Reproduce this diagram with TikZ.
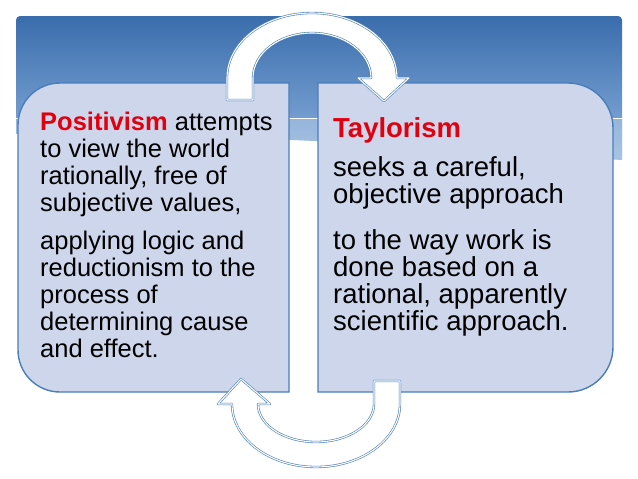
\documentclass[tikz,border=0pt]{standalone}
\usepackage{fontspec}
\setmainfont{Liberation Sans}
\definecolor{bandtop}{HTML}{3A6DAC}
\definecolor{bandbot}{HTML}{8BB0DD}
\definecolor{boxfill}{HTML}{CDD6EB}
\definecolor{boxline}{HTML}{4A7EBB}
\definecolor{keyred}{HTML}{E2000F}

\begin{document}
\begin{tikzpicture}[x=1pt, y=-1pt,
    panel/.style={fill=boxfill, draw=boxline, line width=1.4pt},
    turn/.style={fill=white, draw=boxline, double=white, double distance=1.1pt, line width=0.6pt, line join=round},
    lefttext/.style={anchor=base west, align=left, inner sep=0pt, font=\fontsize{25.5}{27}\selectfont},
    righttext/.style={anchor=base west, align=left, inner sep=0pt, font=\fontsize{27.5}{27}\selectfont}]
  \useasboundingbox (0,0) rectangle (638,479);
  \fill[white] (0,0) rectangle (638,479);

  % header band
  \shade[top color=bandtop, bottom color=bandbot, rounded corners=4pt]
    (16,134) -- (16,16) -- (622,16) [sharp corners] -- (622,160)
    .. controls (450,150) and (250,132) .. (16,134) -- cycle;
  \fill[white, opacity=0.25] (16,118) -- (622,118) -- (622,160)
    .. controls (450,150) and (250,132) .. (16,134) -- cycle;
  \draw[white, line width=1pt] (16,118) -- (622,118);

  % the two panels
  \draw[panel] (289,83) -- (289,392) -- (60,392) arc[start angle=90, end angle=180, radius=42]
    -- (18,125) arc[start angle=180, end angle=270, radius=42] -- cycle;
  \draw[panel] (318,83) -- (568,83) arc[start angle=270, end angle=360, radius=45]
    -- (613,347) arc[start angle=0, end angle=90, radius=45] -- (318,392) -- cycle;

  % turning arrows
  \draw[turn] (227,100) -- (227,78) arc[start angle=180, end angle=360, x radius=85, y radius=65]
    -- (409,78) -- (384,101) -- (358,78) -- (371,78)
    arc[start angle=360, end angle=180, x radius=59, y radius=45] -- (253,100) -- cycle;
  \draw[turn] (400,381) -- (400,404) arc[start angle=0, end angle=180, x radius=84, y radius=63]
    -- (218,404) -- (241,379) -- (270,404) -- (258,404)
    arc[start angle=180, end angle=0, x radius=58, y radius=38] -- (374,381) -- cycle;

  % left panel text (anchored on the last line)
  \node[lefttext] (posit) at (40,211) {\textcolor{keyred}{\textbf{Positivism}} attempts\\to view the world\\rationally, free of\\subjective values,};
  \node[lefttext] (positb) at (40,357) {applying logic and\\reductionism to the\\process of\\determining cause\\and effect.};

  % right panel text
  \node[righttext] (taylor) at (333,137) {\textcolor{keyred}{\textbf{Taylorism}}};
  \node[righttext] (taylorb) at (333,203) {seeks a careful,\\objective approach};
  \node[righttext] (taylorc) at (333,330) {to the way work is\\done based on a\\rational, apparently\\scientific approach.};
\end{tikzpicture}
\end{document}
